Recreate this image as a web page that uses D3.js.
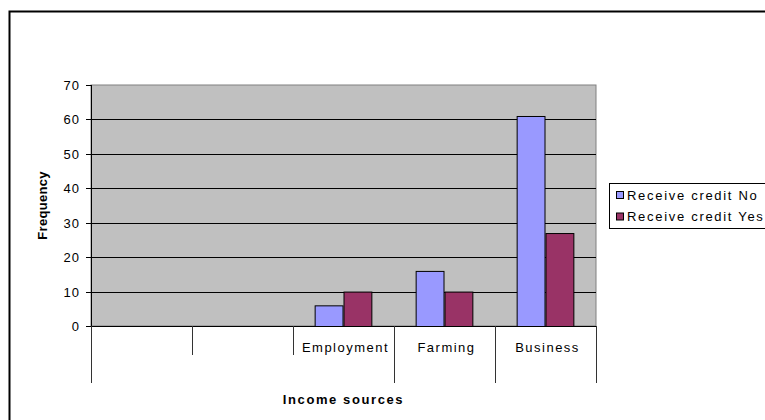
<!DOCTYPE html>
<html>
<head>
<meta charset="utf-8">
<script src="https://cdn.jsdelivr.net/npm/d3@7"></script>
<style>
  html, body { margin: 0; padding: 0; background: #fff; }
  svg { display: block; font-family: "Liberation Sans", Arial, sans-serif; }
  .tick-label { font-size: 13px; letter-spacing: 1px; fill: #000; }
  .cat-label { font-size: 13px; letter-spacing: 1.5px; fill: #000; }
  .legend-label { font-size: 13px; letter-spacing: 1.7px; fill: #000; }
  .axis-title { font-size: 13px; font-weight: bold; fill: #000; }
</style>
</head>
<body>
<div id="chart"></div>
<script>
// Income sources (lower category level) and the grouping level beneath it
const categories = ["", "", "Employment", "Farming", "Business"];
const groupSizes = [3, 1, 1];
const seriesNames = ["Receive credit No", "Receive credit Yes"];
const creditNo = [null, null, 6, 16, 61];
const creditYes = [null, null, 10, 10, 27];
const yTicks = [0, 10, 20, 30, 40, 50, 60, 70];
const seriesColors = ["#9999FF", "#993366"];

const W = 765, H = 420;
const plot = { left: 91, right: 596, top: 85, bottom: 326 };

const svg = d3.select("#chart").append("svg")
  .attr("width", W).attr("height", H);

// chart frame
svg.append("path")
  .attr("d", `M9.5,${H + 2} V11.5 H${W + 2}`)
  .attr("fill", "none").attr("stroke", "#000").attr("stroke-width", 2);

const x = d3.scaleBand().domain(d3.range(categories.length))
  .range([plot.left, plot.right]).paddingInner(0).paddingOuter(0);
const y = d3.scaleLinear().domain([0, 70]).range([plot.bottom, plot.top]);

// plot area background
svg.append("rect")
  .attr("x", plot.left).attr("y", plot.top)
  .attr("width", plot.right - plot.left).attr("height", plot.bottom - plot.top)
  .attr("fill", "#C0C0C0").attr("stroke", "#808080").attr("stroke-width", 1);

// horizontal gridlines
svg.append("g").selectAll("line").data(yTicks.filter(d => d > 0 && d < 70)).join("line")
  .attr("x1", plot.left).attr("x2", plot.right)
  .attr("y1", d => Math.round(y(d)) + 0.5).attr("y2", d => Math.round(y(d)) + 0.5)
  .attr("stroke", "#000").attr("stroke-width", 1);

// bars: 150% gap width between clusters
const bw = x.bandwidth() / 3.5;
const series = [creditNo, creditYes];
series.forEach((vals, si) => {
  svg.append("g").selectAll("rect")
    .data(vals.map((v, i) => ({ v, i })).filter(d => d.v != null))
    .join("rect")
    .attr("x", d => x(d.i) + bw * 0.75 + si * bw + 0.5)
    .attr("y", d => y(d.v) + 0.5)
    .attr("width", bw - 1)
    .attr("height", d => y(0) - y(d.v))
    .attr("fill", seriesColors[si])
    .attr("stroke", "#000").attr("stroke-width", 1);
});

// value axis
const yAxis = svg.append("g");
yAxis.append("line")
  .attr("x1", plot.left + 0.5).attr("x2", plot.left + 0.5)
  .attr("y1", plot.top).attr("y2", plot.bottom)
  .attr("stroke", "#000");
yAxis.selectAll("line.tk").data(yTicks).join("line").attr("class", "tk")
  .attr("x1", plot.left - 5).attr("x2", plot.left)
  .attr("y1", d => Math.round(y(d)) + 0.5).attr("y2", d => Math.round(y(d)) + 0.5)
  .attr("stroke", "#000");
yAxis.selectAll("text").data(yTicks).join("text").attr("class", "tick-label")
  .attr("x", 80).attr("y", d => y(d) + 5)
  .attr("text-anchor", "end")
  .text(d => d);

// category axis line at zero
svg.append("line")
  .attr("x1", plot.left - 5).attr("x2", plot.right)
  .attr("y1", Math.round(y(0)) + 0.5).attr("y2", Math.round(y(0)) + 0.5)
  .attr("stroke", "#000");

// category separators: short between categories, long at group boundaries
const groupEdges = [0];
groupSizes.forEach(s => groupEdges.push(groupEdges[groupEdges.length - 1] + s));
const edges = d3.range(categories.length + 1);
svg.append("g").selectAll("line").data(edges).join("line")
  .attr("x1", i => Math.round(i < categories.length ? x(i) : plot.right) + 0.5)
  .attr("x2", i => Math.round(i < categories.length ? x(i) : plot.right) + 0.5)
  .attr("y1", plot.bottom)
  .attr("y2", i => groupEdges.includes(i) ? 383 : 355)
  .attr("stroke", "#333");

svg.append("g").selectAll("text").data(categories).join("text").attr("class", "cat-label")
  .attr("x", (d, i) => x(i) + x.bandwidth() / 2 + 2)
  .attr("y", 352)
  .attr("text-anchor", "middle")
  .text(d => d);

// axis titles
svg.append("text").attr("class", "axis-title")
  .attr("x", (plot.left + plot.right) / 2).attr("y", 404)
  .attr("text-anchor", "middle").style("letter-spacing", "1.6px")
  .text("Income sources");
svg.append("text").attr("class", "axis-title")
  .attr("transform", `translate(47,${(plot.top + plot.bottom) / 2}) rotate(-90)`)
  .attr("text-anchor", "middle").style("letter-spacing", "0.3px")
  .text("Frequency");

// legend
const legend = svg.append("g");
legend.append("rect")
  .attr("x", 609.5).attr("y", 183.5).attr("width", 170).attr("height", 45)
  .attr("fill", "#fff").attr("stroke", "#000");
const rows = legend.selectAll("g.row").data(seriesNames).join("g").attr("class", "row")
  .attr("transform", (d, i) => `translate(0,${195 + i * 21.5})`);
rows.append("rect")
  .attr("x", 616.5).attr("y", -3.5).attr("width", 7).attr("height", 7)
  .attr("fill", (d, i) => seriesColors[i]).attr("stroke", "#000");
rows.append("text").attr("class", "legend-label")
  .attr("x", 627).attr("y", 4.5)
  .text(d => d);
</script>
</body>
</html>
